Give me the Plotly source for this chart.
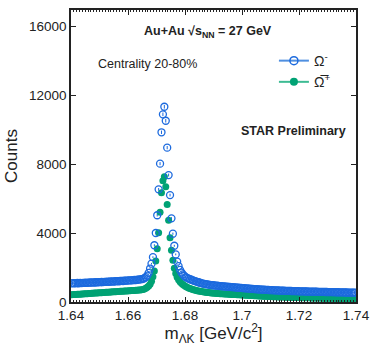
import numpy as np
import plotly.graph_objects as go

# bin centres of the invariant-mass histogram (GeV/c^2), 0.0005 GeV bins
bin_start = 1.64025
bin_width = 0.0005

omega_minus = [
    1080, 1092, 1078, 1090, 1101, 1088, 1107, 1099, 1112, 1104,
    1118, 1109, 1126, 1131, 1120, 1138, 1130, 1145, 1139, 1152,
    1148, 1161, 1155, 1170, 1166, 1179, 1172, 1188, 1183, 1196,
    1190, 1205, 1211, 1203, 1219, 1226, 1218, 1234, 1241, 1236,
    1250, 1259, 1252, 1268, 1276, 1271, 1289, 1298, 1310, 1322,
    1345, 1380, 1440, 1530, 1690, 1940, 2220, 2600, 3290, 4000,
    5030, 6530, 8020, 9840, 10880, 11320, 10510, 8950, 7360, 6200,
    4850, 3960, 3260, 2760, 2340, 2080, 1860, 1710, 1600, 1510,
    1440, 1395, 1355, 1322, 1290, 1256, 1229, 1198, 1172, 1146,
    1118, 1094, 1071, 1052, 1034, 1019, 1006, 992, 983, 971,
    962, 951, 944, 936, 925, 919, 910, 903, 894, 888,
    879, 873, 864, 859, 849, 845, 835, 829, 820, 814,
    805, 800, 791, 786, 777, 772, 764, 759, 751, 747,
    739, 735, 727, 723, 716, 712, 705, 702, 695, 692,
    686, 684, 678, 676, 670, 668, 663, 661, 656, 654,
    649, 648, 643, 642, 637, 636, 631, 630, 626, 625,
    620, 620, 615, 615, 610, 610, 606, 605, 601, 601,
    597, 597, 593, 592, 588, 588, 584, 584, 580, 580,
    576, 576, 572, 572, 568, 568, 564, 564, 560, 560,
    556, 556, 552, 552, 548, 548, 544, 544, 540, 540,
]

omega_plus_bar = [
    420, 428, 431, 440, 443, 452, 455, 463, 468, 474,
    480, 484, 492, 496, 503, 507, 515, 519, 526, 531,
    537, 542, 549, 553, 560, 565, 571, 576, 583, 588,
    594, 599, 606, 610, 617, 622, 628, 633, 640, 645,
    651, 656, 662, 668, 673, 679, 686, 692, 700, 712,
    730, 760, 800, 855, 925, 1030, 1200, 1470, 1800, 2380,
    3090, 4020, 5200, 6340, 7030, 7260, 6680, 5660, 4740, 3730,
    3000, 2420, 1950, 1650, 1440, 1290, 1175, 1090, 1020, 960,
    905, 858, 818, 783, 752, 724, 699, 677, 657, 639,
    622, 607, 593, 580, 568, 557, 547, 537, 528, 520,
    512, 505, 498, 491, 485, 479, 473, 468, 462, 457,
    452, 447, 442, 438, 433, 429, 425, 421, 417, 413,
    405, 401, 395, 391, 385, 381, 375, 371, 366, 362,
    357, 353, 348, 344, 339, 336, 330, 327, 322, 319,
    314, 311, 306, 304, 299, 297, 292, 290, 286, 284,
    280, 278, 274, 272, 268, 267, 263, 262, 258, 257,
    254, 252, 249, 248, 245, 244, 241, 240, 237, 236,
    233, 232, 229, 229, 226, 225, 223, 222, 220, 219,
    217, 216, 214, 214, 211, 211, 209, 209, 206, 206,
    204, 204, 202, 202, 200, 200, 198, 198, 196, 196,
]

mass = [round(bin_start + bin_width * i, 5) for i in range(len(omega_minus))]

x_ticks = [1.64, 1.66, 1.68, 1.70, 1.72, 1.74]
x_tick_labels = ["1.64", "1.66", "1.68", "1.7", "1.72", "1.74"]
y_ticks = [0, 4000, 8000, 12000, 16000]
y_tick_labels = ["0", "4000", "8000", "12000", "16000"]

BLUE = "#1c6ade"
GREEN = "#00a274"
BLUE_LINE = "#4f8fe0"
GREEN_LINE = "#3dbb93"
FONT = "Liberation Sans, Arial, sans-serif"

fig = go.Figure()

fig.add_trace(go.Scatter(
    x=mass, y=omega_plus_bar, mode="markers", showlegend=False,
    marker=dict(symbol="circle", size=7, color=GREEN, line=dict(width=0)),
    error_y=dict(type="data", array=np.sqrt(omega_plus_bar), thickness=1, width=0, color=GREEN),
))
fig.add_trace(go.Scatter(
    x=mass, y=omega_minus, mode="markers", showlegend=False,
    marker=dict(symbol="circle-open", size=7, color=BLUE, line=dict(width=1.3, color=BLUE)),
    error_y=dict(type="data", array=np.sqrt(omega_minus), thickness=1, width=0, color=BLUE),
))

# legend entries
fig.add_trace(go.Scatter(
    x=[None], y=[None], mode="lines+markers", name="Ω<sup>-</sup>",
    line=dict(color=BLUE_LINE, width=2),
    marker=dict(symbol="circle-open", size=8, color=BLUE, line=dict(width=1.5, color=BLUE)),
))
fig.add_trace(go.Scatter(
    x=[None], y=[None], mode="lines+markers", name="Ω\u0305<sup>+</sup>",
    line=dict(color=GREEN_LINE, width=2),
    marker=dict(symbol="circle", size=8, color=GREEN),
))

axis_common = dict(
    showline=True, linecolor="#222", linewidth=1.5, mirror="allticks",
    ticks="inside", tickcolor="#222", ticklen=5, tickwidth=1,
    showgrid=False, zeroline=False, automargin=False,
    tickfont=dict(family=FONT, size=13.5, color="#222"),
)

fig.update_xaxes(
    range=[1.64, 1.74], tickvals=x_ticks, ticktext=x_tick_labels,
    minor=dict(ticks="inside", ticklen=2, tickcolor="#222", dtick=0.001, showgrid=False),
    title=dict(text="m<sub>ΛK</sub> [GeV/c<sup>2</sup>]", standoff=2,
               font=dict(family=FONT, size=17, color="#222")),
    **axis_common,
)
fig.update_yaxes(
    range=[0, 16930], tickvals=y_ticks, ticktext=y_tick_labels,
    title=dict(text="Counts", standoff=7,
               font=dict(family=FONT, size=17, color="#222")),
    **axis_common,
)

fig.add_annotation(
    x=0.481, y=0.925, xref="paper", yref="paper", showarrow=False, yanchor="middle",
    text="<b>Au+Au √s<sub>NN</sub> = 27 GeV</b>",
    font=dict(family=FONT, size=12.5, color="#222"),
)
fig.add_annotation(
    x=0.086, y=0.815, xref="paper", yref="paper", showarrow=False,
    xanchor="left", yanchor="middle",
    text="Centrality 20-80%",
    font=dict(family=FONT, size=12.5, color="#222"),
)
fig.add_annotation(
    x=0.972, y=0.586, xref="paper", yref="paper", showarrow=False,
    xanchor="right", yanchor="middle",
    text="<b>STAR Preliminary</b>",
    font=dict(family=FONT, size=12.5, color="#222"),
)

fig.update_layout(
    width=370, height=346,
    margin=dict(l=71, r=14, t=10, b=44),
    paper_bgcolor="white", plot_bgcolor="white",
    legend=dict(x=0.712, y=0.88, xanchor="left", yanchor="top",
                bgcolor="rgba(0,0,0,0)", itemwidth=30, tracegroupgap=0,
                font=dict(family=FONT, size=14, color="#222")),
)

fig.write_html(
    "out.html",
    config={"displayModeBar": False},
    post_script="document.body.style.margin='0';document.body.style.overflow='hidden';",
)
